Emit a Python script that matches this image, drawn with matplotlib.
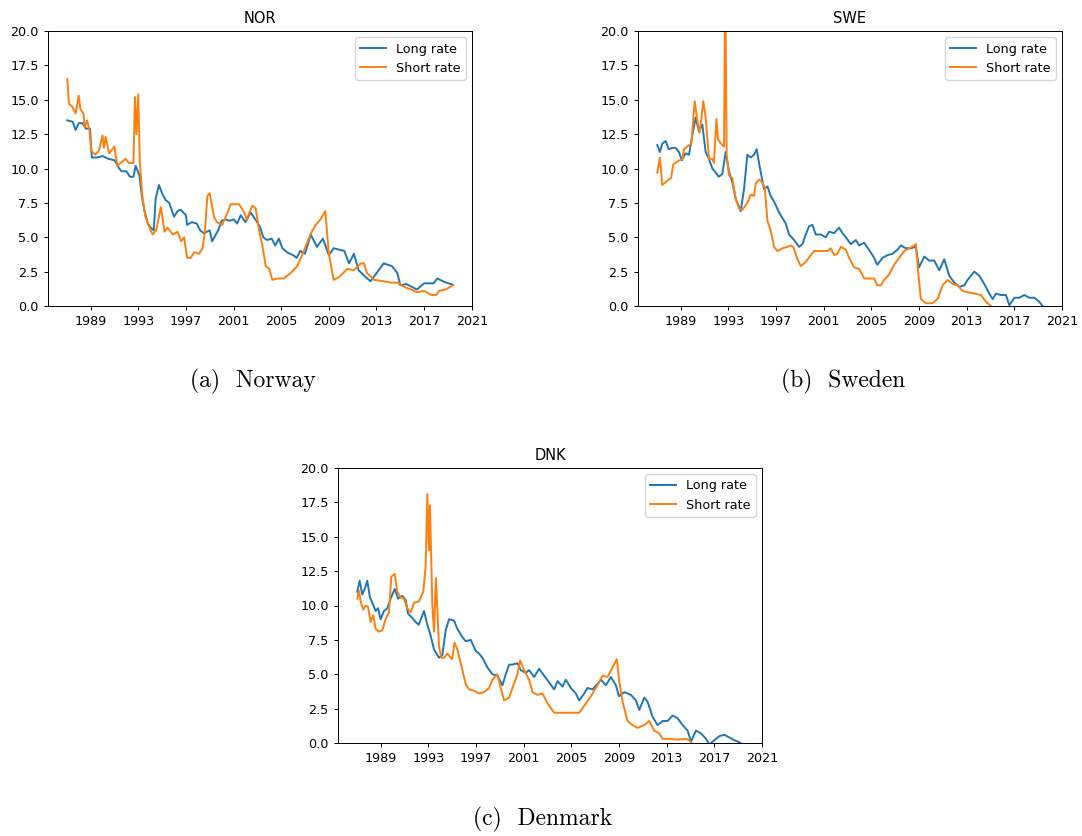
import matplotlib.pyplot as plt

# Norway, 10y government bond (long) and 3m money market (short) rates, %
nor_long_t = [1987.04, 1987.5, 1987.74, 1988.0, 1988.3, 1988.6, 1988.95, 1989.1, 1989.5, 1990.0,
              1990.5, 1991.0, 1991.4, 1991.6, 1992.0, 1992.3, 1992.6, 1992.78, 1993.1, 1993.3,
              1993.5, 1993.8, 1994.04, 1994.3, 1994.46, 1994.74, 1995.0, 1995.3, 1995.6, 1996.0,
              1996.3, 1996.56, 1997.0, 1997.1, 1997.5, 1997.9, 1998.2, 1998.5, 1999.0, 1999.2,
              1999.7, 2000.0, 2000.3, 2000.7, 2001.0, 2001.3, 2001.6, 2002.0, 2002.44, 2002.9,
              2003.2, 2003.5, 2003.8, 2004.2, 2004.5, 2004.8, 2005.1, 2005.5, 2006.0, 2006.3,
              2006.6, 2007.0, 2007.48, 2008.0, 2008.5, 2009.0, 2009.4, 2010.3, 2010.7, 2011.1,
              2011.5, 2012.1, 2012.5, 2013.1, 2013.6, 2014.3, 2014.75, 2015.0, 2015.5, 2016.4,
              2017.0, 2017.8, 2018.1, 2018.7, 2019.4]
nor_long_v = [13.5, 13.4, 12.8, 13.3, 13.3, 12.9, 12.9, 10.8, 10.8, 10.9,
              10.7, 10.6, 10.0, 9.8, 9.8, 9.4, 9.4, 10.2, 9.5, 8.0,
              7.0, 6.0, 5.7, 5.5, 7.8, 8.8, 8.2, 7.7, 7.5, 6.5,
              6.9, 7.0, 6.6, 5.9, 6.1, 6.0, 5.5, 5.3, 5.5, 4.7,
              5.5, 6.2, 6.3, 6.2, 6.3, 6.0, 6.6, 6.1, 6.8, 6.2,
              5.8, 5.0, 4.8, 4.9, 4.4, 4.9, 4.2, 3.9, 3.7, 3.5,
              4.0, 3.8, 5.2, 4.3, 4.9, 3.7, 4.2, 4.0, 3.1, 3.8,
              2.6, 2.1, 1.8, 2.5, 3.1, 2.9, 2.4, 1.5, 1.6, 1.2,
              1.65, 1.65, 2.0, 1.75, 1.55]
nor_short_t = [1987.04, 1987.18, 1987.46, 1987.74, 1988.0, 1988.15, 1988.4, 1988.5, 1988.7, 1988.9,
               1989.05, 1989.4, 1989.7, 1990.0, 1990.12, 1990.26, 1990.55, 1991.0, 1991.24, 1991.66,
               1991.94, 1992.2, 1992.6, 1992.72, 1992.85, 1993.0, 1993.13, 1993.34, 1993.6, 1993.9,
               1994.2, 1994.5, 1994.9, 1995.2, 1995.45, 1995.9, 1996.3, 1996.6, 1996.85, 1997.1,
               1997.4, 1997.7, 1998.1, 1998.4, 1998.6, 1998.8, 1999.0, 1999.35, 1999.6, 2000.05,
               2000.5, 2000.76, 2001.04, 2001.46, 2001.9, 2002.1, 2002.58, 2002.86, 2003.14, 2003.4,
               2003.7, 2004.0, 2004.25, 2004.7, 2005.2, 2005.8, 2006.35, 2006.9, 2007.5, 2007.9,
               2008.3, 2008.7, 2009.0, 2009.4, 2009.85, 2010.55, 2011.1, 2011.7, 2011.95, 2012.2,
               2012.8, 2013.6, 2014.2, 2014.75, 2015.3, 2015.9, 2016.4, 2017.0, 2017.6, 2018.0,
               2018.26, 2018.8, 2019.4]
nor_short_v = [16.5, 14.7, 14.5, 14.0, 15.3, 14.3, 14.0, 13.0, 13.5, 12.8,
               11.3, 11.0, 11.3, 12.4, 11.5, 12.3, 11.1, 11.6, 10.2, 10.5,
               10.7, 10.4, 10.4, 15.2, 12.5, 15.4, 10.5, 8.0, 6.5, 5.8,
               5.2, 5.5, 7.2, 5.4, 5.7, 5.2, 5.4, 4.7, 5.0, 3.5,
               3.5, 3.9, 3.8, 4.2, 5.5, 8.0, 8.2, 6.5, 6.1, 5.9,
               6.8, 7.4, 7.4, 7.4, 6.8, 6.3, 7.3, 7.1, 5.5, 4.5,
               2.9, 2.7, 1.9, 2.0, 2.0, 2.4, 2.9, 4.0, 5.3, 5.9,
               6.3, 6.9, 3.8, 1.9, 2.1, 2.7, 2.6, 3.1, 3.1, 2.4,
               1.9, 1.8, 1.7, 1.7, 1.4, 1.2, 1.0, 1.1, 0.8, 0.8,
               1.1, 1.2, 1.5]

# Sweden
swe_long_t = [1987.04, 1987.26, 1987.46, 1987.74, 1988.0, 1988.3, 1988.58, 1988.86, 1989.1, 1989.4,
              1989.7, 1990.0, 1990.26, 1990.54, 1990.82, 1991.1, 1991.38, 1991.66, 1991.94, 1992.2,
              1992.5, 1992.78, 1993.06, 1993.34, 1993.62, 1994.04, 1994.32, 1994.6, 1994.88, 1995.16,
              1995.38, 1995.66, 1996.0, 1996.28, 1996.56, 1996.84, 1997.26, 1997.54, 1997.82, 1998.1,
              1998.52, 1998.94, 1999.22, 1999.5, 1999.78, 2000.06, 2000.34, 2000.76, 2001.18, 2001.46,
              2001.88, 2002.3, 2002.58, 2002.86, 2003.28, 2003.7, 2003.98, 2004.4, 2004.8, 2005.24,
              2005.5, 2005.94, 2006.36, 2006.78, 2007.2, 2007.48, 2007.9, 2008.32, 2008.74, 2009.0,
              2009.44, 2009.86, 2010.28, 2010.7, 2011.12, 2011.54, 2011.96, 2012.38, 2012.8, 2013.08,
              2013.64, 2014.06, 2014.48, 2014.9, 2015.18, 2015.46, 2015.88, 2016.3, 2016.58, 2017.0,
              2017.42, 2017.84, 2018.26, 2018.68, 2019.1, 2019.37]
swe_long_v = [11.7, 11.2, 11.8, 12.0, 11.4, 11.5, 11.5, 11.2, 10.6, 11.1,
              11.0, 12.5, 13.7, 12.7, 13.2, 11.2, 10.7, 10.0, 9.7, 9.4,
              9.6, 11.2, 9.8, 9.0, 7.8, 6.9, 8.5, 11.0, 10.8, 11.0,
              11.4, 10.0, 8.5, 8.7, 8.0, 7.6, 6.8, 6.4, 6.0, 5.2,
              4.8, 4.3, 4.5, 5.2, 5.8, 5.9, 5.2, 5.2, 5.0, 5.4,
              5.3, 5.7, 5.3, 5.0, 4.5, 4.8, 4.4, 4.6, 4.1, 3.5,
              3.0, 3.5, 3.7, 3.8, 4.1, 4.4, 4.2, 4.2, 4.3, 2.8,
              3.6, 3.3, 3.3, 2.6, 3.4, 2.2, 1.7, 1.4, 1.5, 1.9,
              2.5, 2.2, 1.6, 0.9, 0.5, 0.9, 0.8, 0.8, 0.05, 0.6,
              0.6, 0.8, 0.6, 0.6, 0.3, 0.0]
swe_short_t = [1987.04, 1987.26, 1987.46, 1987.74, 1988.0, 1988.2, 1988.38, 1988.72, 1989.14, 1989.28,
               1989.7, 1989.9, 1990.18, 1990.4, 1990.6, 1990.9, 1991.1, 1991.38, 1991.66, 1991.8,
               1992.0, 1992.14, 1992.4, 1992.64, 1992.75, 1992.86, 1993.06, 1993.34, 1993.62, 1993.9,
               1994.18, 1994.6, 1994.88, 1995.16, 1995.3, 1995.58, 1995.86, 1996.06, 1996.28, 1996.56,
               1996.84, 1997.12, 1997.54, 1997.96, 1998.24, 1998.46, 1998.8, 1999.08, 1999.5, 1999.92,
               2000.2, 2000.76, 2001.32, 2001.6, 2001.88, 2002.16, 2002.44, 2002.86, 2003.14, 2003.56,
               2003.98, 2004.4, 2004.82, 2005.24, 2005.5, 2005.8, 2006.08, 2006.5, 2006.92, 2007.34,
               2007.76, 2008.18, 2008.6, 2008.74, 2008.93, 2009.16, 2009.58, 2010.14, 2010.56, 2010.98,
               2011.4, 2011.82, 2012.24, 2012.66, 2013.08, 2013.64, 2014.2, 2014.62, 2015.04, 2015.5,
               2016.0, 2017.0, 2018.0, 2019.37]
swe_short_v = [9.7, 10.8, 8.8, 9.0, 9.2, 9.3, 10.3, 10.5, 10.7, 11.4,
               11.7, 11.8, 14.9, 13.5, 12.6, 14.9, 13.7, 10.7, 10.7, 10.4,
               13.6, 12.1, 11.8, 11.6, 24.0, 11.0, 9.5, 9.3, 7.8, 7.1,
               7.0, 7.5, 8.1, 8.0, 8.9, 9.2, 9.0, 8.6, 6.2, 5.5,
               4.3, 4.0, 4.2, 4.3, 4.4, 4.3, 3.4, 2.9, 3.2, 3.7,
               4.0, 4.0, 4.0, 4.2, 3.7, 3.8, 4.3, 4.1, 3.5, 2.8,
               2.7, 2.0, 2.0, 2.0, 1.5, 1.5, 1.9, 2.3, 3.0, 3.5,
               4.0, 4.2, 4.4, 4.5, 2.5, 0.5, 0.2, 0.2, 0.5, 1.5,
               1.9, 1.6, 1.5, 1.1, 1.0, 0.9, 0.8, 0.3, 0.0, -0.3,
               -0.6, -0.7, -0.7, -0.4]

# Denmark
dnk_long_t = [1987.04, 1987.24, 1987.46, 1987.66, 1987.88, 1988.1, 1988.3, 1988.58, 1988.78, 1989.0,
              1989.28, 1989.56, 1989.84, 1990.18, 1990.46, 1990.82, 1991.1, 1991.3, 1991.66, 1991.94,
              1992.2, 1992.64, 1992.92, 1993.2, 1993.48, 1993.9, 1994.18, 1994.46, 1994.74, 1995.16,
              1995.44, 1995.86, 1996.14, 1996.56, 1996.98, 1997.26, 1997.54, 1997.96, 1998.38, 1998.8,
              1999.22, 1999.5, 1999.78, 2000.06, 2000.48, 2000.76, 2001.18, 2001.46, 2001.88, 2002.3,
              2002.72, 2003.14, 2003.56, 2003.84, 2004.26, 2004.54, 2004.96, 2005.38, 2005.66, 2006.08,
              2006.36, 2006.78, 2007.2, 2007.48, 2007.9, 2008.32, 2008.74, 2009.0, 2009.44, 2010.0,
              2010.42, 2010.7, 2011.12, 2011.4, 2011.82, 2012.24, 2012.66, 2013.08, 2013.5, 2013.92,
              2014.34, 2014.76, 2015.04, 2015.46, 2015.88, 2016.3, 2016.58, 2017.0, 2017.42, 2017.84,
              2018.26, 2018.68, 2019.1, 2019.37]
dnk_long_v = [11.0, 11.8, 10.8, 11.2, 11.8, 10.6, 10.2, 9.6, 9.8, 9.0,
              9.6, 9.8, 10.5, 11.2, 10.5, 10.7, 10.4, 9.4, 9.1, 8.8,
              8.6, 9.6, 8.6, 7.8, 6.8, 6.2, 6.4, 8.2, 9.0, 8.9,
              8.3, 7.7, 7.4, 7.5, 6.7, 6.5, 6.2, 5.5, 5.0, 4.9,
              4.2, 5.0, 5.7, 5.7, 5.8, 5.3, 5.1, 5.3, 4.8, 5.4,
              4.9, 4.4, 3.9, 4.5, 4.1, 4.6, 4.0, 3.6, 3.1, 3.6,
              4.0, 3.9, 4.3, 4.6, 4.2, 4.8, 4.2, 3.4, 3.7, 3.5,
              3.1, 2.4, 3.3, 3.0, 1.9, 1.3, 1.6, 1.6, 2.0, 1.8,
              1.3, 0.9, 0.1, 0.9, 0.7, 0.3, -0.1, 0.2, 0.5, 0.6,
              0.4, 0.2, 0.05, -0.1]
dnk_short_t = [1987.04, 1987.18, 1987.32, 1987.54, 1987.74, 1987.94, 1988.16, 1988.38, 1988.58, 1988.86,
               1989.14, 1989.42, 1989.7, 1989.9, 1990.18, 1990.4, 1990.68, 1990.96, 1991.24, 1991.52,
               1991.8, 1992.22, 1992.58, 1992.78, 1992.92, 1993.06, 1993.14, 1993.34, 1993.48, 1993.64,
               1993.9, 1994.1, 1994.32, 1994.6, 1995.0, 1995.2, 1995.44, 1995.86, 1996.14, 1996.42,
               1996.84, 1997.26, 1997.68, 1998.1, 1998.38, 1998.8, 1999.08, 1999.36, 1999.78, 2000.06,
               2000.48, 2000.7, 2001.04, 2001.46, 2001.74, 2002.16, 2002.58, 2003.0, 2003.56, 2004.12,
               2004.96, 2005.66, 2006.08, 2006.64, 2007.2, 2007.62, 2008.04, 2008.46, 2008.82, 2009.02,
               2009.3, 2009.72, 2010.14, 2010.56, 2011.12, 2011.54, 2011.96, 2012.38, 2012.66, 2013.08,
               2013.92, 2014.62, 2014.9, 2015.18, 2016.0, 2017.0, 2018.0, 2019.37]
dnk_short_v = [10.5, 11.1, 10.3, 9.7, 10.0, 9.9, 8.8, 9.3, 8.3, 8.1,
               8.2, 9.0, 9.5, 12.1, 12.3, 11.0, 10.6, 10.5, 9.8, 9.5,
               10.2, 10.3, 11.0, 12.9, 18.1, 14.0, 17.3, 10.0, 8.1, 12.0,
               7.0, 6.2, 6.2, 6.5, 6.1, 7.3, 6.8, 5.3, 4.3, 3.9,
               3.8, 3.6, 3.7, 4.0, 4.6, 5.0, 4.0, 3.1, 3.3, 4.0,
               5.0, 6.0, 5.3, 4.6, 3.7, 3.5, 3.6, 2.9, 2.2, 2.2,
               2.2, 2.2, 2.7, 3.4, 4.2, 4.9, 4.8, 5.5, 6.1, 4.5,
               3.0, 1.6, 1.3, 1.1, 1.3, 1.6, 0.9, 0.7, 0.3, 0.3,
               0.25, 0.3, 0.2, -0.1, -0.2, -0.3, -0.3, -0.35]

year_ticks = [1989, 1993, 1997, 2001, 2005, 2009, 2013, 2017, 2021]

plt.rcParams['font.size'] = 9.2
plt.rcParams['lines.linewidth'] = 1.4
plt.rcParams['axes.linewidth'] = 0.7
plt.rcParams['xtick.major.size'] = 3.2
plt.rcParams['ytick.major.size'] = 3.2
plt.rcParams['xtick.major.width'] = 0.7
plt.rcParams['ytick.major.width'] = 0.7

fig = plt.figure(figsize=(10.82, 8.36), dpi=100)


def plotRates(rect, title, long_t, long_v, short_t, short_v):
    ax = fig.add_axes(rect)
    ax.plot(long_t, long_v, color='C0', label='Long rate')
    ax.plot(short_t, short_v, color='C1', label='Short rate')
    ax.set_ylim(0, 20)
    ax.set_yticks([0, 2.5, 5, 7.5, 10, 12.5, 15, 17.5, 20])
    ax.set_xticks(year_ticks)
    ax.set_xticklabels([str(y) for y in year_ticks])
    ax.set_title(title, fontsize=10.5)
    ax.legend(loc='upper right')
    return ax


w = 424 / 1082
h = 275 / 836
plotRates([48 / 1082, 1 - 306 / 836, w, h], 'NOR', nor_long_t, nor_long_v, nor_short_t, nor_short_v)
plotRates([638 / 1082, 1 - 306 / 836, w, h], 'SWE', swe_long_t, swe_long_v, swe_short_t, swe_short_v)
plotRates([338 / 1082, 1 - 743 / 836, w, h], 'DNK', dnk_long_t, dnk_long_v, dnk_short_t, dnk_short_v)

# subfigure captions
cap = dict(fontfamily='cmr10', fontsize=17, ha='center', va='center')
fig.text(253 / 1082, 1 - 381 / 836, '(a)  Norway', **cap)
fig.text(843 / 1082, 1 - 381 / 836, '(b)  Sweden', **cap)
fig.text(543 / 1082, 1 - 819 / 836, '(c)  Denmark', **cap)

plt.savefig('out.png', dpi=100)
plt.close()
